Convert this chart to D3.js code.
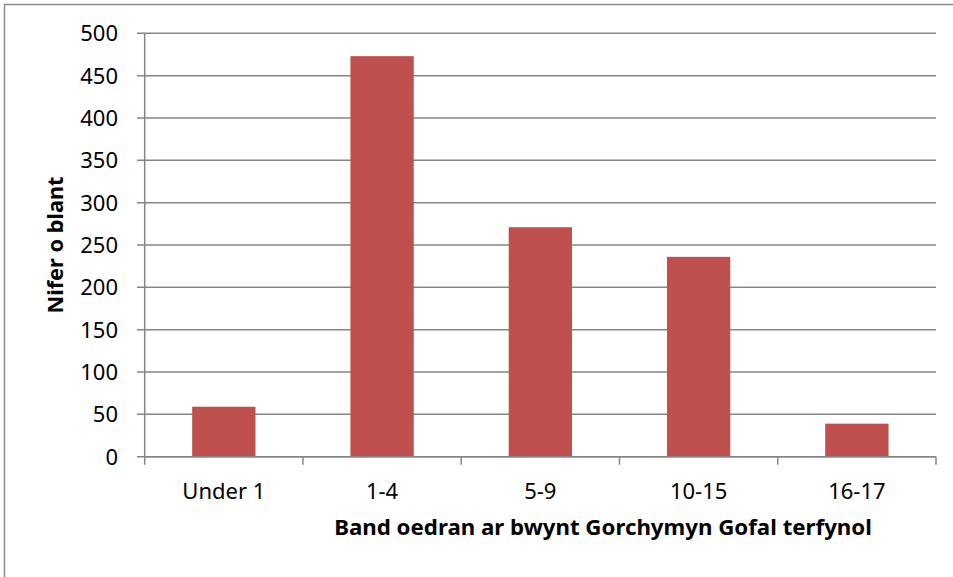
<!DOCTYPE html>
<html><head><meta charset="utf-8">
<script src="https://cdn.jsdelivr.net/npm/d3@7"></script>
<style>body{margin:0;background:#fff;} svg{display:block;}</style>
</head><body>
<script>
const categories = ["Under 1", "1-4", "5-9", "10-15", "16-17"];
const values = [59, 473, 271, 236, 39];
const yTicks = [0, 50, 100, 150, 200, 250, 300, 350, 400, 450, 500];
const yTitle = "Nifer o blant";
const xTitle = "Band oedran ar bwynt Gorchymyn Gofal terfynol";

const W = 953, H = 577;
const font = "'Noto Sans', 'Open Sans', sans-serif";
const svg = d3.select("body").append("svg").attr("width", W).attr("height", H);

// outer border
svg.append("rect").attr("x", 4.5).attr("y", 4.5).attr("width", W + 10).attr("height", H + 10)
  .attr("fill", "none").attr("stroke", "#8c8c8c").attr("stroke-width", 1.5);

const plot = {left: 144.7, right: 936, top: 33.3, bottom: 456.7};
const x = d3.scaleBand().domain(categories).range([plot.left, plot.right]).paddingInner(0.6).paddingOuter(0.3);
const xb = d3.scaleBand().domain(categories).range([plot.left, plot.right]);
const y = d3.scaleLinear().domain([0, 500]).range([plot.bottom, plot.top]);

const grid = "#868686";
svg.append("g").selectAll("line").data(yTicks).join("line")
  .attr("x1", 137).attr("x2", plot.right)
  .attr("y1", d => y(d)).attr("y2", d => y(d))
  .attr("stroke", grid).attr("stroke-width", 1.5);

svg.append("line").attr("x1", plot.left).attr("x2", plot.left).attr("y1", plot.top).attr("y2", plot.bottom)
  .attr("stroke", grid).attr("stroke-width", 1.5);

svg.append("g").selectAll("rect").data(values).join("rect")
  .attr("x", (d, i) => x(categories[i]))
  .attr("width", x.bandwidth())
  .attr("y", d => y(d))
  .attr("height", d => y(0) - y(d))
  .attr("fill", "#C0504D");

svg.append("line").attr("x1", plot.left).attr("x2", plot.right).attr("y1", plot.bottom).attr("y2", plot.bottom)
  .attr("stroke", grid).attr("stroke-width", 1.5);
const xTickPos = categories.map(c => xb(c)).concat([plot.right]);
svg.append("g").selectAll("line").data(xTickPos).join("line")
  .attr("x1", d => d).attr("x2", d => d).attr("y1", plot.bottom).attr("y2", plot.bottom + 8)
  .attr("stroke", grid).attr("stroke-width", 1.5);

svg.append("g").selectAll("text").data(yTicks).join("text")
  .attr("x", 118).attr("y", d => y(d)).attr("dy", "0.36em")
  .attr("text-anchor", "end").attr("font-family", font).attr("font-size", 22)
  .attr("fill", "#000").text(d => d);

svg.append("g").selectAll("text").data(categories).join("text")
  .attr("x", c => xb(c) + xb.bandwidth() / 2).attr("y", 499)
  .attr("text-anchor", "middle").attr("font-family", font).attr("font-size", 22)
  .attr("fill", "#000").text(c => c);

function squeeze(sel, base, target) {
  const len = sel.node().getComputedTextLength();
  sel.attr("transform", base + ` scale(${target / len},1)`);
}

const xt = svg.append("text").attr("text-anchor", "middle")
  .attr("font-family", font).attr("font-weight", "bold").attr("font-size", 22).attr("fill", "#000").text(xTitle);
squeeze(xt, "translate(603,535)", 538);
const yt = svg.append("text").attr("text-anchor", "middle")
  .attr("font-family", font).attr("font-weight", "bold").attr("font-size", 22).attr("fill", "#000").text(yTitle);
squeeze(yt, "translate(63,245) rotate(-90)", 137);
</script>
</body></html>
